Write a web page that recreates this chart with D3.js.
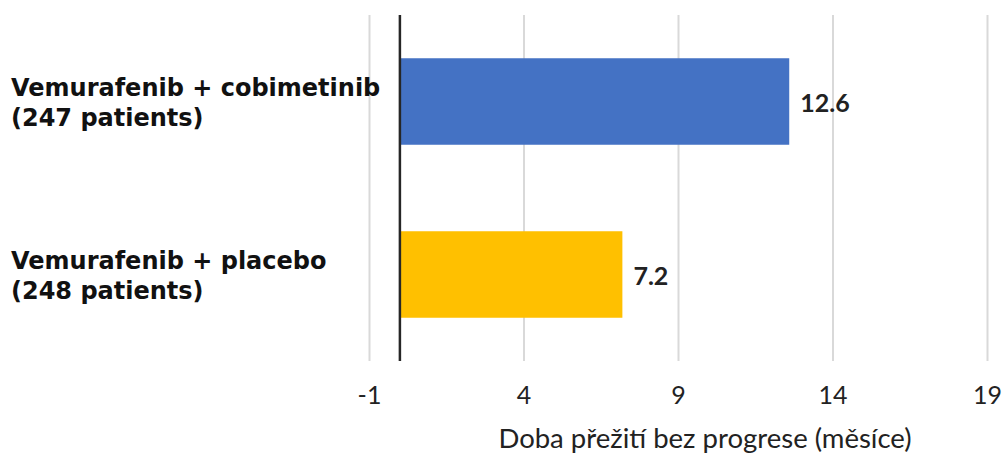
<!DOCTYPE html>
<html>
<head>
<meta charset="utf-8">
<script src="https://cdn.jsdelivr.net/npm/d3@7"></script>
<style>
  body { margin: 0; background: #fff; }
  svg { display: block; }
</style>
</head>
<body>
<div id="chart"></div>
<script>
// data
var groups = ["Vemurafenib + cobimetinib", "Vemurafenib + placebo"];
var patients = ["(247 patients)", "(248 patients)"];
var pfsMonths = [12.6, 7.2];
var barColors = ["#4472C4", "#FFC000"];
var tickVals = [-1, 4, 9, 14, 19];
var xTitle = "Doba přežití bez progrese (měsíce)";

const W = 1003, H = 454;
const plot = { left: 369, right: 987, top: 15, bottom: 361 };

var svg = d3.select("#chart").append("svg")
    .attr("width", W)
    .attr("height", H);

var x = d3.scaleLinear()
    .domain([-1, 19])
    .range([plot.left, plot.right]);

var y = d3.scaleBand()
    .domain(groups)
    .range([plot.top, plot.bottom])
    .paddingInner(0.5)
    .paddingOuter(0.25);

// gridlines
svg.append("g")
    .attr("transform", `translate(0, ${plot.bottom})`)
    .call(d3.axisBottom(x).tickValues(tickVals).tickSize(-(plot.bottom - plot.top)).tickFormat(""))
    .call(g => g.select(".domain").remove())
    .selectAll("line")
    .attr("stroke", "#d9d9d9")
    .attr("stroke-width", 2);

// tick labels (plain hyphen for negatives, like the original)
svg.append("g")
    .attr("transform", `translate(0, ${plot.bottom})`)
    .call(d3.axisBottom(x).tickValues(tickVals).tickSize(0).tickPadding(25).tickFormat(d => String(d)))
    .call(g => g.select(".domain").remove())
    .selectAll("text")
    .attr("font-family", "Lato, 'Open Sans', sans-serif")
    .attr("font-size", 25)
    .attr("fill", "#222");

// bars
svg.selectAll("rect.bar")
    .data(groups)
    .enter()
    .append("rect")
    .attr("class", "bar")
    .attr("x", x(0))
    .attr("y", d => y(d))
    .attr("width", (d, i) => x(pfsMonths[i]) - x(0))
    .attr("height", y.bandwidth())
    .attr("fill", (d, i) => barColors[i]);

// value labels
svg.selectAll("text.val")
    .data(groups)
    .enter()
    .append("text")
    .attr("class", "val")
    .attr("x", (d, i) => x(pfsMonths[i]) + 11)
    .attr("y", d => y(d) + y.bandwidth() / 2 + 10)
    .attr("font-family", "Lato, 'Open Sans', sans-serif")
    .attr("font-weight", "bold")
    .attr("font-size", 25)
    .attr("fill", "#222")
    .text((d, i) => pfsMonths[i]);

// zero axis line
svg.append("line")
    .attr("x1", x(0)).attr("x2", x(0))
    .attr("y1", plot.top).attr("y2", plot.bottom)
    .attr("stroke", "#262626")
    .attr("stroke-width", 2.5);

// category labels
var cat = svg.selectAll("text.cat")
    .data(groups)
    .enter()
    .append("text")
    .attr("class", "cat")
    .attr("font-family", "'DejaVu Sans', Verdana, sans-serif")
    .attr("font-weight", "bold")
    .attr("font-size", 24)
    .attr("fill", "#111");
cat.append("tspan")
    .attr("x", 11)
    .attr("y", d => y(d) + y.bandwidth() / 2 - 6)
    .text(d => d);
cat.append("tspan")
    .attr("x", 11)
    .attr("y", d => y(d) + y.bandwidth() / 2 + 24)
    .text((d, i) => patients[i]);

// x axis title
svg.append("text")
    .attr("x", 705)
    .attr("y", 448)
    .attr("text-anchor", "middle")
    .attr("font-family", "Lato, 'Open Sans', sans-serif")
    .attr("font-size", 27.5)
    .attr("fill", "#222")
    .text(xTitle);
</script>
</body>
</html>
